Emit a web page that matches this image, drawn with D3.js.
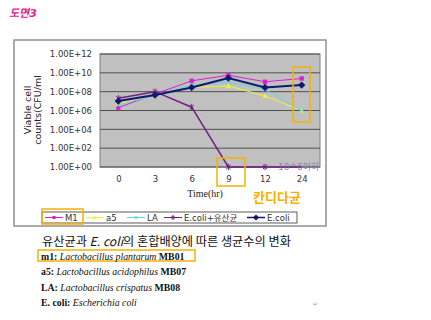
<!DOCTYPE html>
<html>
<head>
<meta charset="utf-8">
<script src="https://cdn.jsdelivr.net/npm/d3@7"></script>
<style>
  body { margin: 0; background: #fff; }
  svg text { font-family: "DejaVu Sans", "Noto Sans CJK KR", sans-serif; }
  .ser { font-family: "Liberation Serif", "Noto Sans CJK KR", serif; }
</style>
</head>
<body>
<div id="chart"></div>
<script>
// time points (hr) as category labels
var hours = ["0", "3", "6", "9", "12", "24"];
// log10 of viable cell counts
var m1    = [6.3, 7.75, 9.15, 9.75, 9.05, 9.4];
var a5    = [6.75, 7.6, 8.45, 8.6, 7.55, 6.0];
var la    = [6.6, 7.6, 8.7, 9.05, 8.25, 6.0];
var mixed = [7.3, 8.0, 6.35, 0, 0, 0];
var ecoli = [7.0, 7.65, 8.45, 9.45, 8.45, 8.7];
var yTicks = ["1.00E+00", "1.00E+02", "1.00E+04", "1.00E+06", "1.00E+08", "1.00E+10", "1.00E+12"];

var series = [
    { name: "M1", values: m1, color: "#e020d0", mark: "square" },
    { name: "a5", values: a5, color: "#f0f040", mark: "triangle" },
    { name: "LA", values: la, color: "#60d8d8", mark: "cross" },
    { name: "E.coli+유산균", values: mixed, color: "#702080", mark: "star" },
    { name: "E.coli", values: ecoli, color: "#101870", mark: "diamond" }
];

var W = 431, H = 320;
var plot = { left: 100, top: 54, right: 320, bottom: 167 };

var svg = d3.select("#chart").append("svg")
    .attr("width", W)
    .attr("height", H);

// title
svg.append("text")
    .attr("x", 9).attr("y", 17)
    .style("font-size", "11px")
    .style("font-weight", "bold")
    .style("font-style", "italic")
    .style("fill", "#e8208c")
    .text("도면3");

// chart frame
svg.append("rect")
    .attr("x", 14).attr("y", 40)
    .attr("width", 312).attr("height", 186)
    .style("fill", "#fff")
    .style("stroke", "#909090")
    .style("stroke-width", 1.5);

var x = d3.scalePoint().domain(hours).range([plot.left, plot.right]).padding(0.5);
var y = d3.scaleLog().domain([1, 1e12]).range([plot.bottom, plot.top]);

// plot background
svg.append("rect")
    .attr("x", plot.left).attr("y", plot.top)
    .attr("width", plot.right - plot.left)
    .attr("height", plot.bottom - plot.top)
    .style("fill", "#c0c0c0")
    .style("stroke", "#808080");

// grid lines
yTicks.forEach(function (t) {
    svg.append("line")
        .attr("x1", plot.left).attr("x2", plot.right)
        .attr("y1", y(+t)).attr("y2", y(+t))
        .style("stroke", "#505050")
        .style("stroke-width", 1);
});

// y axis
var yAxis = svg.append("g")
    .attr("transform", "translate(" + plot.left + ",0)")
    .call(d3.axisLeft(y)
        .tickValues(yTicks.map(Number))
        .tickFormat(function (d, i) { return yTicks[i]; })
        .tickSize(0).tickPadding(8));
yAxis.select(".domain").remove();
yAxis.selectAll("text").style("font-size", "8.5px").style("fill", "#333");

// x axis
var xAxis = svg.append("g")
    .attr("transform", "translate(0," + plot.bottom + ")")
    .call(d3.axisBottom(x).tickSize(0).tickPadding(9));
xAxis.select(".domain").remove();
xAxis.selectAll("text").style("font-size", "8.5px").style("fill", "#333");

// axis titles
var yt = svg.append("text")
    .attr("transform", "translate(31,110) rotate(-90)")
    .attr("text-anchor", "middle")
    .style("font-size", "9.5px")
    .style("fill", "#222");
yt.append("tspan").attr("x", 0).attr("dy", 0).text("Viable cell");
yt.append("tspan").attr("x", 0).attr("dy", 9.5).text("counts(CFU/ml");

svg.append("text")
    .attr("x", 205).attr("y", 197)
    .attr("text-anchor", "middle")
    .attr("class", "ser")
    .style("font-size", "10px")
    .style("fill", "#222")
    .text("Time(hr)");

// marker drawing
function drawMark(g, type, cx, cy, color, s) {
    if (type == "square") {
        g.append("rect").attr("x", cx - s).attr("y", cy - s)
            .attr("width", 2 * s).attr("height", 2 * s).style("fill", color);
    } else if (type == "triangle") {
        g.append("path").attr("d", "M" + cx + "," + (cy - s - 0.5) + "L" + (cx + s + 0.5) + "," + (cy + s) + "L" + (cx - s - 0.5) + "," + (cy + s) + "Z")
            .style("fill", color);
    } else if (type == "diamond") {
        var r = s + 1.5;
        g.append("path").attr("d", "M" + cx + "," + (cy - r) + "L" + (cx + r) + "," + cy + "L" + cx + "," + (cy + r) + "L" + (cx - r) + "," + cy + "Z")
            .style("fill", color);
    } else {
        var d = "M" + (cx - s) + "," + (cy - s) + "L" + (cx + s) + "," + (cy + s) +
                "M" + (cx + s) + "," + (cy - s) + "L" + (cx - s) + "," + (cy + s);
        if (type == "star") d += "M" + cx + "," + (cy - s - 1) + "L" + cx + "," + (cy + s + 1);
        g.append("path").attr("d", d).style("stroke", color).style("stroke-width", 1).style("fill", "none");
    }
}

var line = d3.line()
    .x(function (d, i) { return x(hours[i]); })
    .y(function (d) { return y(Math.pow(10, d)); });

series.forEach(function (s) {
    var g = svg.append("g");
    g.append("path")
        .datum(s.values)
        .attr("d", line)
        .style("fill", "none")
        .style("stroke", s.color)
        .style("stroke-width", s.name == "E.coli" ? 2 : (s.name == "E.coli+유산균" ? 1.5 : 1));
    s.values.forEach(function (v, i) {
        if (s.name == "E.coli+유산균" && i == 5) return;
        drawMark(g, s.mark, x(hours[i]), y(Math.pow(10, v)), s.color, 2.2);
    });
});

// note below detection limit
svg.append("text")
    .attr("x", 278).attr("y", 170)
    .style("font-size", "9px")
    .style("fill", "#8070b0")
    .style("opacity", 0.85)
    .text("10^6이하");

// legend
var lg = svg.append("g");
lg.append("rect")
    .attr("x", 42).attr("y", 212)
    .attr("width", 255).attr("height", 11)
    .style("fill", "#fff")
    .style("stroke", "#333")
    .style("stroke-width", 0.8);
var legX = [45, 86, 127, 164, 247];
series.forEach(function (s, i) {
    var lx = legX[i];
    lg.append("line")
        .attr("x1", lx).attr("x2", lx + 18)
        .attr("y1", 217.5).attr("y2", 217.5)
        .style("stroke", s.color)
        .style("stroke-width", s.name == "E.coli" ? 1.5 : 1);
    drawMark(lg, s.mark, lx + 9, 217.5, s.color, 1.6);
    lg.append("text")
        .attr("x", lx + 20).attr("y", 221)
        .style("font-size", "8.5px")
        .style("fill", "#333")
        .text(s.name);
});

// highlight annotations
var boxes = [
    { x: 42, y: 209, w: 41, h: 15 },
    { x: 217, y: 158, w: 28, h: 28 },
    { x: 293, y: 67, w: 17, h: 55 },
    { x: 38, y: 250, w: 157, h: 11 }
];
boxes.forEach(function (b) {
    svg.append("rect")
        .attr("x", b.x).attr("y", b.y)
        .attr("width", b.w).attr("height", b.h)
        .style("fill", "none")
        .style("stroke", "#f8b000")
        .style("stroke-width", 1.5);
});

svg.append("text")
    .attr("x", 253).attr("y", 202)
    .style("font-family", "Noto Sans CJK KR")
    .style("font-size", "13px")
    .style("font-weight", "bold")
    .style("fill", "#f8b000")
    .text("칸디다균");

// caption
var cap = svg.append("text")
    .attr("x", 42).attr("y", 246)
    .style("font-family", "Noto Sans CJK KR")
    .style("font-size", "12.2px")
    .style("fill", "#111");
cap.append("tspan").text("유산균과 ");
cap.append("tspan").style("font-style", "italic").text("E. coli");
cap.append("tspan").text("의 혼합배양에 따른 생균수의 변화");

var notes = [
    ["m1: ", "Lactobacillus plantarum", " MB01"],
    ["a5: ", "Lactobacillus acidophilus", " MB07"],
    ["LA: ", "Lactobacillus crispatus", " MB08"],
    ["E. coli: ", "Escherichia coli", ""]
];
notes.forEach(function (n, i) {
    var t = svg.append("text")
        .attr("class", "ser")
        .attr("x", 41).attr("y", 259.5 + i * 15.5)
        .style("font-size", "9.8px")
        .style("fill", "#111");
    t.append("tspan").style("font-weight", "bold").text(n[0]);
    t.append("tspan").style("font-style", "italic").text(n[1]);
    t.append("tspan").style("font-weight", "bold").text(n[2]);
});

svg.append("text")
    .attr("x", 313).attr("y", 306)
    .style("font-size", "6px")
    .style("fill", "#999")
    .text("↵");
</script>
</body>
</html>
